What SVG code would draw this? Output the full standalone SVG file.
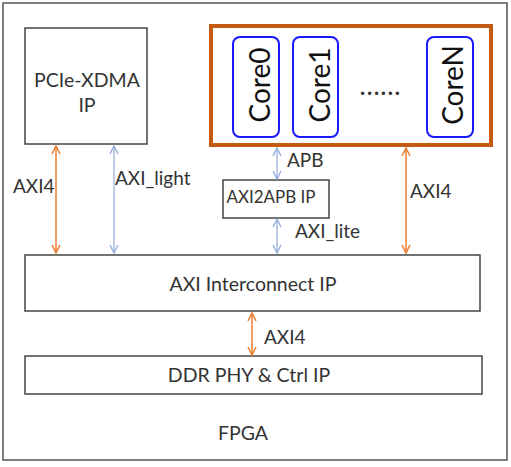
<svg xmlns="http://www.w3.org/2000/svg" width="511" height="467" viewBox="0 0 511 467">
<style>
text{font-family:Lato,"Open Sans","Liberation Sans",sans-serif;fill:#333}
.box{fill:#fff;stroke:#444;stroke-width:1.5}
.core{fill:#fff;stroke:#1a1aff;stroke-width:2}
.o{stroke:#ed7d31;stroke-width:1.5;fill:none}
.b{stroke:#8faadc;stroke-width:1.2;fill:none}
.lbl{font-size:19px}
.big{font-size:19.5px}
.cn{font-size:28px;fill:#111}
</style>
<defs>
<marker id="ao" viewBox="0 0 10 10" refX="9" refY="5" markerWidth="10" markerHeight="10" markerUnits="userSpaceOnUse" orient="auto-start-reverse"><path d="M1,1 L9,5 L1,9" fill="none" stroke="#ed7d31" stroke-width="1.5"/></marker>
<marker id="ab" viewBox="0 0 10 10" refX="9" refY="5" markerWidth="10" markerHeight="10" markerUnits="userSpaceOnUse" orient="auto-start-reverse"><path d="M1,1 L9,5 L1,9" fill="none" stroke="#8faadc" stroke-width="1.3"/></marker>
</defs>
<g id="fpga"><rect x="3" y="3" width="504" height="457" fill="#fff" stroke="#555" stroke-width="1.5"/><text class="big" x="243" y="440" text-anchor="middle">FPGA</text></g>
<g id="pcie"><rect class="box" x="25" y="28" width="122" height="116"/><text class="big" x="87" y="87" text-anchor="middle">PCIe-XDMA</text><text class="big" x="87" y="112" text-anchor="middle">IP</text></g>
<g id="cores"><rect x="211" y="26" width="280" height="119" fill="#fff" stroke="#c55a11" stroke-width="4"/>
<g id="core0"><rect class="core" x="233" y="37" width="46" height="100" rx="7"/><text class="cn" transform="translate(270,85) rotate(-90)" text-anchor="middle">Core0</text></g>
<g id="core1"><rect class="core" x="293" y="37" width="45" height="100" rx="7"/><text class="cn" transform="translate(330,85) rotate(-90)" text-anchor="middle">Core1</text></g>
<text x="360" y="95" font-size="22" font-weight="bold" textLength="40" lengthAdjust="spacing" fill="#111">......</text>
<g id="coreN"><rect class="core" x="427" y="37" width="46" height="100" rx="7"/><text class="cn" transform="translate(463,85) rotate(-90)" text-anchor="middle">CoreN</text></g>
</g>
<g id="axi2apb"><rect class="box" x="223" y="180" width="106" height="38"/><text x="271" y="203" font-size="17" text-anchor="middle">AXI2APB IP</text></g>
<g id="interconnect"><rect class="box" x="25" y="255" width="455" height="56"/><text class="big" x="253" y="291" text-anchor="middle">AXI Interconnect IP</text></g>
<g id="ddr"><rect class="box" x="25" y="356" width="457" height="38"/><text class="big" x="249" y="382" text-anchor="middle">DDR PHY &amp; Ctrl IP</text></g>
<g id="connectors">
<line class="o" x1="56" y1="146" x2="56" y2="253" marker-start="url(#ao)" marker-end="url(#ao)"/>
<line class="b" x1="114" y1="146" x2="114" y2="253" marker-start="url(#ab)" marker-end="url(#ab)"/>
<line class="b" x1="277" y1="148" x2="277" y2="179" marker-start="url(#ab)" marker-end="url(#ab)"/>
<line class="b" x1="277" y1="219" x2="277" y2="253" marker-start="url(#ab)" marker-end="url(#ab)"/>
<line class="o" x1="406" y1="148" x2="406" y2="253" marker-start="url(#ao)" marker-end="url(#ao)"/>
<line class="o" x1="252" y1="313" x2="252" y2="355" marker-start="url(#ao)" marker-end="url(#ao)"/>
<text class="lbl" x="13" y="193">AXI4</text>
<text class="lbl" x="115" y="185">AXI_light</text>
<text class="lbl" x="287" y="167">APB</text>
<text class="lbl" x="295" y="238">AXI_lite</text>
<text class="lbl" x="410" y="198">AXI4</text>
<text class="lbl" x="264" y="344">AXI4</text>
</g>
</svg>
